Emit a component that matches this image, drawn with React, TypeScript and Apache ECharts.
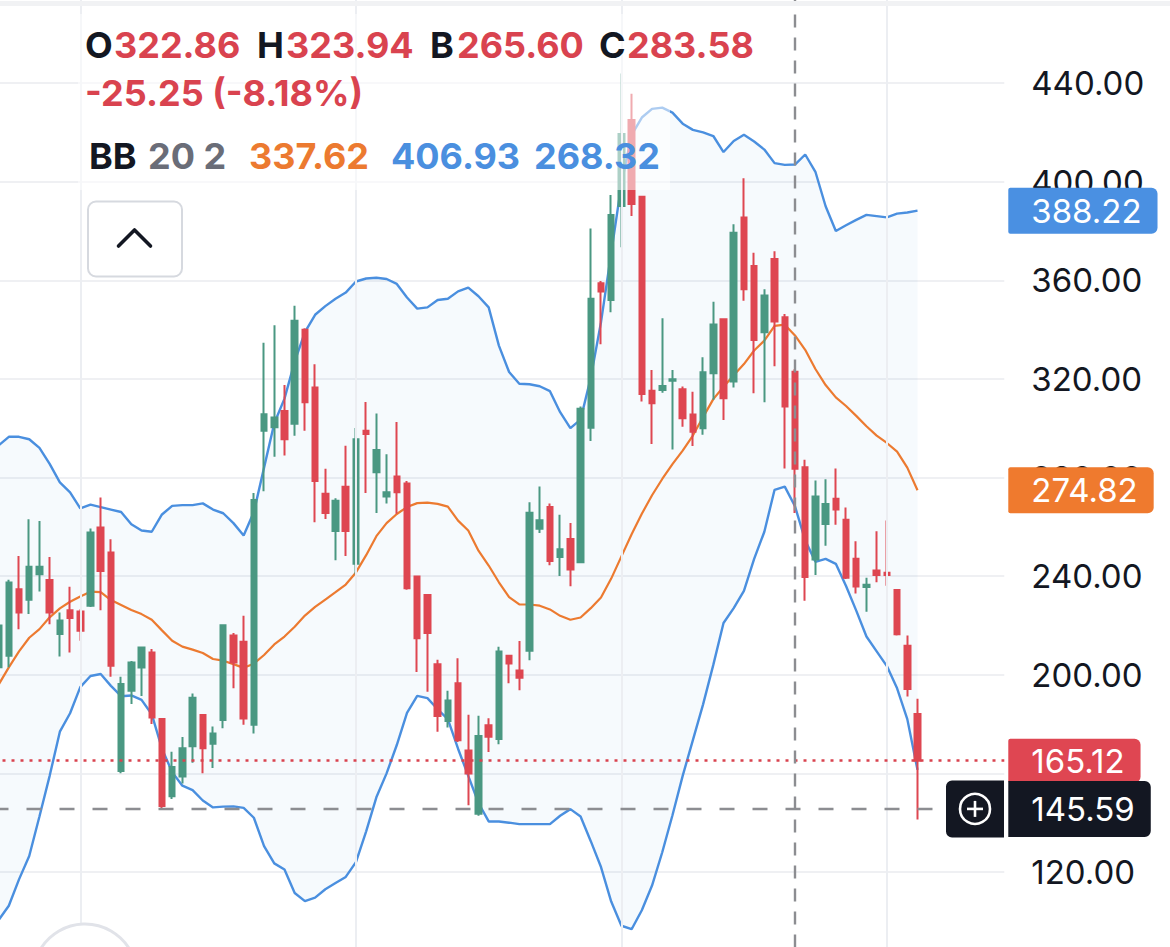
import React, { useEffect, useRef } from 'react';
import * as echarts from 'echarts';

// ---- OHLC data ----
const opens = [203, 207.7, 234.7, 230.4, 240.8, 238.4, 216.5, 226.2, 225.7, 228.0,
  259.7, 249.6, 161.0, 193.5, 202.9, 209.0, 182.1, 150.7, 158.7, 171.0,
  183.7, 172.0, 181.6, 215.9, 213.4, 179.7, 299.0, 300.4, 307.0, 301.8,
  339.9, 316.5, 273.4, 258.3, 276.2, 245.0, 299.0, 282.1, 272.3, 280.4,
  277.6, 239.8, 232.3, 204.3, 181.2, 196.6, 169.3, 143.6, 179.5, 173.9,
  207.7, 201.7, 209.7, 259.2, 268.0, 247.8, 255.1, 245.6, 300.2, 358.8,
  352.0, 390.1, 425.0, 393.9, 315.2, 315.5, 319.2, 315.8, 305.6, 300.0,
  322.3, 344.2, 318.9, 385.5, 365.8, 338.9, 368.6, 345.0, 322.86, 284.2,
  246.7, 261.1, 271.4, 262.9, 247.0, 235.6, 242.3, 241.4, 234.4, 211.8,
  184.1];
const closes = [220.0, 237.4, 225.2, 243.8, 243.8, 225.2, 222.0, 223.0, 217.8, 257.7,
  242.1, 203.6, 196.2, 205.0, 211.1, 182.7, 146.8, 162.6, 170.2, 190.7,
  170.2, 176.2, 220.1, 205.0, 182.3, 270.9, 305.7, 304.3, 295.5, 343.6,
  310.5, 278.6, 265.6, 270.6, 258.3, 295.5, 297.6, 291.2, 274.0, 274.0,
  235.1, 214.8, 216.9, 183.3, 189.6, 173.4, 159.9, 175.2, 174.9, 209.4,
  204.6, 198.8, 265.7, 262.7, 246.1, 250.9, 242.7, 307.9, 352.5, 355.4,
  386.5, 419.3, 390.9, 313.9, 310.1, 317.1, 319.8, 304.0, 298.6, 322.7,
  342.1, 312.1, 379.3, 356.3, 335.8, 353.8, 343.3, 308.83, 283.58, 239.6,
  272.3, 269.3, 267.0, 239.3, 235.8, 236.5, 240.5, 240.5, 216.4, 194.2,
  165.12];
const lows = [198, 203, 218.5, 224.6, 233.8, 220.5, 207.4, 209.0, 213.8, 227.5,
  226.2, 199.2, 160.0, 188.1, 191.4, 180.0, 146.0, 149.6, 155.9, 164.3,
  160.1, 162.2, 178.3, 194.5, 179.7, 176.2, 274.4, 288.4, 288.9, 296.9,
  299.0, 261.8, 263.2, 246.4, 248.2, 240.8, 273.7, 265.6, 269.5, 265.3,
  234.5, 201.1, 193.1, 176.9, 178.6, 172.7, 147.1, 142.8, 168.7, 171.8,
  196.6, 193.7, 205.9, 257.5, 244.4, 240.1, 235.9, 245.2, 294.8, 334.0,
  347.0, 373.4, 386.1, 310.8, 293.6, 314.4, 291.4, 300.6, 292.8, 297.3,
  311.5, 303.3, 316.5, 351.7, 314.2, 310.5, 325.1, 283.7, 265.60, 230.0,
  240.5, 252.3, 260.8, 238.8, 233.0, 225.6, 237.5, 236.1, 215.9, 191.2,
  141.3];
const highs = [221.5, 238.5, 248.2, 263.1, 262.4, 247.8, 225.2, 235.7, 226.6, 259.3,
  271.9, 255.0, 199.2, 205.6, 211.3, 210.4, 182.5, 168.8, 174.8, 192.4,
  184.0, 179.0, 220.5, 216.9, 223.9, 273.7, 334.7, 341.7, 317.5, 349.7,
  340.5, 325.9, 283.5, 271.6, 292.9, 300.1, 310.6, 306.0, 289.4, 302.5,
  278.6, 240.3, 232.8, 206.1, 193.5, 206.7, 183.8, 183.4, 182.4, 211.4,
  208.0, 213.7, 270.0, 276.3, 269.5, 264.9, 261.5, 308.8, 381.0, 359.7,
  394.6, 443.9, 435.6, 394.2, 323.6, 344.6, 323.6, 316.9, 314.8, 328.8,
  351.3, 344.5, 382.7, 401.4, 371.2, 356.3, 371.8, 346.3, 323.94, 287.2,
  278.8, 279.3, 283.7, 267.8, 254.1, 239.3, 258.2, 262.6, 234.7, 215.9,
  190.3];

// ---- Bollinger Bands (20, 2) ----
const bbUpper = [293, 296.5, 296.5, 295.5, 292, 285.5, 278, 274, 267.5, 269,
  268, 267, 266, 261, 258.5, 258, 265, 268.5, 268.8, 268.8,
  269.5, 267, 265.5, 261.5, 256.5, 266, 284, 302, 312, 327,
  339, 346, 349.5, 352.5, 355, 359.5, 360.7, 361, 360.5, 358.5,
  353, 348.5, 349, 352, 352.5, 355.5, 357, 353.5, 349, 333.5,
  322.8, 318, 317.8, 317, 315, 306.5, 300, 303.5, 320.5, 343,
  371, 399, 419, 426, 429.5, 430, 428, 423.5, 421, 420,
  418.5, 412, 416.5, 419, 416.3, 413, 407.5, 406.8, 406.93, 411,
  404, 390, 380, 382.3, 384.5, 386.5, 386, 385.5, 387, 387.5,
  388.22];
const bbMiddle = [196, 203, 209.5, 215, 218.5, 223.3, 226.9, 229.6, 231.7, 233.7,
  233.5, 230.3, 228.3, 226.3, 224.6, 222.3, 218, 213.8, 211.4, 210.2,
  208.8, 206.4, 205.7, 204.3, 202.8, 204.5, 208, 212.3, 215.5, 219.5,
  224, 227.5, 230.5, 233.5, 236.6, 241.5, 248.5, 256.2, 261.5, 265.2,
  268, 269.6, 269.8, 269.3, 268.2, 262.5, 258.5, 250.3, 244.3, 237.5,
  231.5, 228.5, 228.5, 228, 226.5, 223.9, 222.3, 223.2, 227, 231.3,
  239, 248, 257, 265.3, 272.8, 279.4, 285.4, 290.9, 297, 304.5,
  311.8, 316.8, 321.5, 326, 331.5, 335.5, 341.5, 342, 337.62, 331.8,
  324, 317.5, 312.5, 309, 305, 300.8, 297, 294, 290.5, 284,
  274.82];
const bbLower = [100.5, 106.3, 117, 126.5, 142.5, 159, 176.9, 184.4, 195, 199.5,
  200.3, 195.5, 191.3, 191.6, 189.8, 184, 170, 160.5, 155, 153.2,
  149, 146.2, 146.5, 146.6, 146, 142, 130.5, 123.5, 121, 111.5,
  108.2, 109.6, 113, 115.5, 118, 124, 136.5, 150.3, 160, 171.5,
  184.5, 191.4, 190.5, 186, 182, 170, 159, 148, 140.5, 140.5,
  140, 139.4, 139.4, 139.4, 139.4, 142.8, 145.5, 142.5, 132.5, 122,
  108, 98.2, 96.8, 104.5, 114.5, 128, 143, 159, 173.5, 188,
  204, 221, 227, 234, 247, 258, 275, 276.3, 268.32, 254.5,
  245.8, 247, 245, 236, 226, 215.5, 209.5, 203.5, 194.5, 182,
  161.42];

const monthStartIdx = [8, 35, 61, 87];
const crosshairIdx = 78;
const crosshairPrice = 145.59;
const emptySlotsRight = 8;
const yMin = 80;
const yMax = 480;
const yStep = 40;

const UP = '#4a9882';
const DOWN = '#de4651';
const BLUE = '#4a8fdf';
const ORANGE = '#ec7a30';
const DARK = '#131722';
const FONT = 'Inter, "Noto Sans", sans-serif';

export default function App() {
  const ref = useRef<HTMLDivElement>(null);

  useEffect(() => {
    if (!ref.current) return;
    const chart = echarts.init(ref.current, null, { renderer: 'svg' });
    const nSlots = closes.length + emptySlotsRight;
    const categories = Array.from({ length: nSlots }, (_, i) => String(i));
    const last = closes.length - 1;
    const candleData = opens.map((o, i) => [o, closes[i], lows[i], highs[i]]);
    const bandWidth = bbUpper.map((u, i) => +(u - bbLower[i]).toFixed(2));

    const tagLabel = (bg: string, text: string, padV: number, radius: any) => ({
      show: true,
      position: 'end',
      distance: 4,
      formatter: () => text,
      color: '#ffffff',
      fontSize: 33,
      fontFamily: FONT,
      lineHeight: 36,
      backgroundColor: bg,
      padding: [padV, 16, padV, 23],
      borderRadius: radius,
    });
    const hiddenLine = { color: 'rgba(255,255,255,0)', width: 1, type: 'solid' };

    const option: any = {
      animation: false,
      backgroundColor: '#ffffff',
      grid: {
        left: -6.5,
        top: -15.62,
        width: nSlots * 10.21,
        height: 986.24,
        containLabel: false,
        outerBoundsMode: 'none',
      },
      xAxis: {
        type: 'category',
        data: categories,
        boundaryGap: true,
        axisLine: { show: false },
        axisTick: { show: false },
        axisLabel: { show: false },
        splitLine: { show: false },
      },
      yAxis: {
        type: 'value',
        position: 'right',
        min: yMin,
        max: yMax,
        interval: yStep,
        axisLine: { show: false },
        axisTick: { show: false },
        axisLabel: {
          margin: 27,
          fontSize: 33,
          fontFamily: FONT,
          color: DARK,
          showMinLabel: false,
          showMaxLabel: false,
          formatter: (v: number) => v.toFixed(2),
        },
        splitLine: { lineStyle: { color: '#eff0f3', width: 2 } },
      },
      series: [
        {
          name: 'bandBase',
          type: 'line',
          data: bbLower,
          stack: 'band',
          symbol: 'none',
          silent: true,
          lineStyle: { opacity: 0 },
          z: 1,
        },
        {
          name: 'bandFill',
          type: 'line',
          data: bandWidth,
          stack: 'band',
          symbol: 'none',
          silent: true,
          lineStyle: { opacity: 0 },
          areaStyle: { color: 'rgba(74,143,223,0.065)' },
          z: 1,
          markLine: {
            silent: true,
            symbol: ['none', 'none'],
            label: { show: false },
            lineStyle: { color: '#eceef2', width: 2, type: 'solid' },
            data: monthStartIdx.map((i) => ({ xAxis: String(i) })),
          },
        },
        {
          name: 'BB upper',
          type: 'line',
          data: bbUpper,
          symbol: 'none',
          lineStyle: { color: BLUE, width: 2.4 },
          z: 3,
        },
        {
          name: 'BB lower',
          type: 'line',
          data: bbLower,
          symbol: 'none',
          lineStyle: { color: BLUE, width: 2.4 },
          z: 3,
        },
        {
          name: 'BB basis',
          type: 'line',
          data: bbMiddle,
          symbol: 'none',
          lineStyle: { color: ORANGE, width: 2.2 },
          z: 3,
        },
        {
          name: 'price',
          type: 'candlestick',
          data: candleData,
          barWidth: 6,
          itemStyle: {
            color: UP,
            color0: DOWN,
            borderColor: UP,
            borderColor0: DOWN,
            borderWidth: 2,
          },
          z: 4,
          markLine: {
            silent: true,
            symbol: ['none', 'none'],
            label: { show: false },
            z: 6,
            data: [
              {
                yAxis: bbUpper[last],
                lineStyle: hiddenLine,
                label: tagLabel('#4a90e2', bbUpper[last].toFixed(2), 5, [2, 6, 6, 2]),
              },
              {
                yAxis: bbMiddle[last],
                lineStyle: hiddenLine,
                label: tagLabel('#ef7a2e', bbMiddle[last].toFixed(2), 5, [2, 6, 6, 2]),
              },
              {
                yAxis: closes[last],
                lineStyle: { color: '#d9434f', width: 2.6, type: [3, 6] },
                label: tagLabel('#df4652', closes[last].toFixed(2), 4, [2, 6, 6, 2]),
              },
              {
                xAxis: String(crosshairIdx),
                lineStyle: { color: '#8c8d91', width: 2.4, type: [13, 10] },
                label: { show: false },
              },
              {
                yAxis: crosshairPrice,
                lineStyle: { color: '#8c8d91', width: 2.4, type: [15, 18] },
                label: tagLabel(DARK, crosshairPrice.toFixed(2), 10, [0, 6, 6, 0]),
              },
            ],
          },
        },
      ],
    };

    chart.setOption(option);

    const yPix = chart.convertToPixel({ yAxisIndex: 0 }, crosshairPrice) as number;
    const ci = crosshairIdx;
    const prevClose = closes[ci - 1];
    const chg = closes[ci] - prevClose;
    const pct = (chg / prevClose) * 100;
    const fmt = (v: number) => v.toFixed(2);

    const txt = (x: number, y: number, text: string, fill: string, size = 36, weight = 650) => ({
      type: 'text',
      z: 101,
      silent: true,
      style: {
        x,
        y,
        text,
        fill,
        font: `${weight} ${size}px ${FONT}`,
        textVerticalAlign: 'middle',
        verticalAlign: 'middle',
        textAlign: 'left',
        align: 'left',
      },
    });
    const RED_T = '#d9434f';

    const graphic: any[] = [
      { type: 'rect', z: 99, silent: true, shape: { x: 0, y: 1, width: 1170, height: 5 }, style: { fill: '#f1f2f4' } },
      { type: 'rect', z: 100, silent: true, shape: { x: 78, y: 14, width: 592, height: 176 }, style: { fill: 'rgba(255,255,255,0.55)' } },
      txt(85, 45, 'O', DARK),
      txt(114, 45, fmt(opens[ci]), RED_T),
      txt(257, 45, 'H', DARK),
      txt(286, 45, fmt(highs[ci]), RED_T),
      txt(430, 45, 'B', DARK),
      txt(457, 45, fmt(lows[ci]), RED_T),
      txt(599, 45, 'C', DARK),
      txt(627, 45, fmt(closes[ci]), RED_T),
      txt(85, 93, `${fmt(chg)} (${fmt(pct)}%)`, RED_T),
      txt(89, 156, 'BB', DARK),
      txt(148, 156, '20 2', '#6a6d78'),
      txt(249, 156, fmt(bbMiddle[ci]), ORANGE),
      txt(391, 156, fmt(bbUpper[ci]), BLUE),
      txt(534, 156, fmt(bbLower[ci]), BLUE),
      // collapse button
      {
        type: 'rect', z: 100, silent: true,
        shape: { x: 88, y: 201.5, width: 94, height: 75, r: 8 },
        style: { fill: '#ffffff', stroke: '#d6d9df', lineWidth: 2 },
      },
      {
        type: 'polyline', z: 101, silent: true,
        shape: { points: [[118.5, 246], [134.5, 230], [150.5, 246]] },
        style: { stroke: DARK, lineWidth: 3.6, lineCap: 'round', lineJoin: 'round', fill: 'none' },
      },
      // bottom-left round control (partially visible)
      {
        type: 'circle', z: 100, silent: true,
        shape: { cx: 85, cy: 976, r: 52 },
        style: { fill: '#ffffff', stroke: '#e1e3e9', lineWidth: 3 },
      },
      // crosshair "+" button next to the price tag
      {
        type: 'rect', z: 100, silent: true,
        shape: { x: 946, y: yPix - 28.5, width: 58, height: 57, r: [6, 0, 0, 6] },
        style: { fill: DARK },
      },
      {
        type: 'circle', z: 101, silent: true,
        shape: { cx: 975, cy: yPix, r: 15 },
        style: { fill: 'none', stroke: '#ffffff', lineWidth: 2.6 },
      },
      {
        type: 'line', z: 101, silent: true,
        shape: { x1: 967, y1: yPix, x2: 983, y2: yPix },
        style: { stroke: '#ffffff', lineWidth: 2.6 },
      },
      {
        type: 'line', z: 101, silent: true,
        shape: { x1: 975, y1: yPix - 8, x2: 975, y2: yPix + 8 },
        style: { stroke: '#ffffff', lineWidth: 2.6 },
      },
    ];

    chart.setOption({ graphic });

    return () => {
      chart.dispose();
    };
  }, []);

  return (
    <div
      ref={ref}
      style={{ position: 'fixed', left: 0, top: 0, width: 1170, height: 947, background: '#ffffff' }}
    />
  );
}
